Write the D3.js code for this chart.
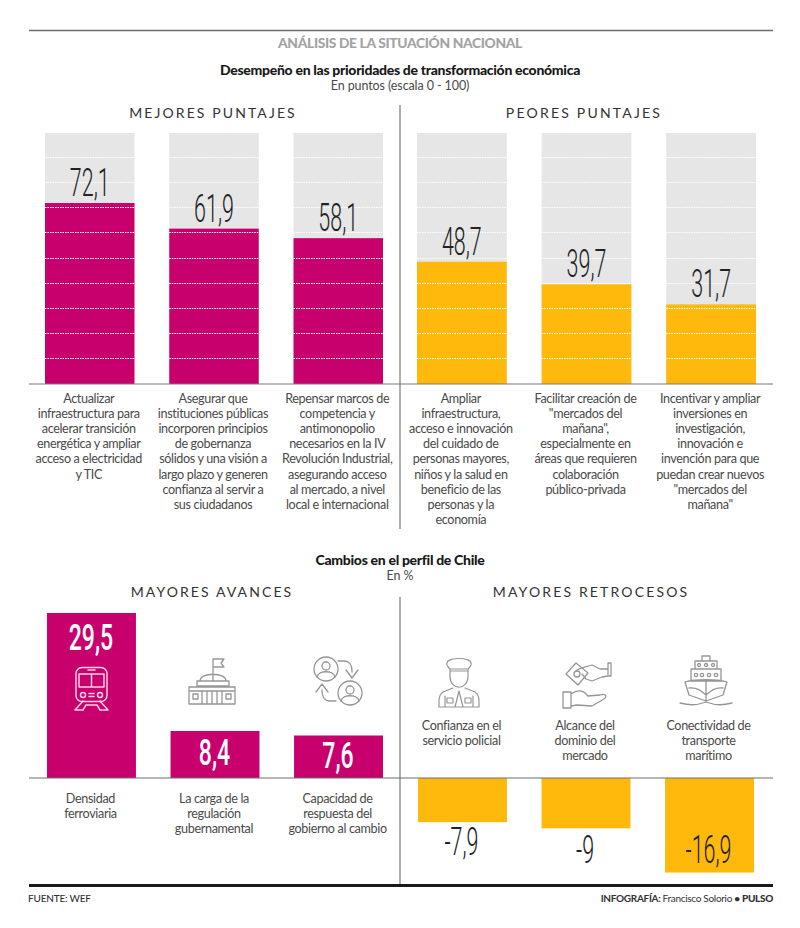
<!DOCTYPE html>
<html><head><meta charset="utf-8">
<script src="https://cdn.jsdelivr.net/npm/d3@7"></script>
<style>
html,body{margin:0;padding:0;background:#fff}
svg{display:block}
text{font-family:Lato,"Open Sans",sans-serif}
</style></head><body>
<svg id="c" width="800" height="928"></svg>
<script>
const bestValues=[72.1,61.9,58.1];
const worstValues=[48.7,39.7,31.7];
const advanceValues=[29.5,8.4,7.6];
const declineValues=[-7.9,-9,-16.9];
const bestLabels=[
 ["Actualizar","infraestructura para","acelerar transición","energética y ampliar","acceso a electricidad","y TIC"],
 ["Asegurar que","instituciones públicas","incorporen principios","de gobernanza","sólidos y una visión a","largo plazo y generen","confianza al servir a","sus ciudadanos"],
 ["Repensar marcos de","competencia y","antimonopolio","necesarios en la IV","Revolución Industrial,","asegurando acceso","al mercado, a nivel","local e internacional"]];
const worstLabels=[
 ["Ampliar","infraestructura,","acceso e innovación","del cuidado de","personas mayores,","niños y la salud en","beneficio de las","personas y la","economía"],
 ["Facilitar creación de","\"mercados del","mañana\",","especialmente en","áreas que requieren","colaboración","público-privada"],
 ["Incentivar y ampliar","inversiones en","investigación,","innovación e","invención para que","puedan crear nuevos","\"mercados del","mañana\""]];
const advanceLabels=[["Densidad","ferroviaria"],["La carga de la","regulación","gubernamental"],["Capacidad de","respuesta del","gobierno al cambio"]];
const declineLabels=[["Confianza en el","servicio policial"],["Alcance del","dominio del","mercado"],["Conectividad de","transporte","marítimo"]];
const gridTicks=[10,20,30,40,50,60,70,80,90];
const MAGENTA="#c8006e",AMBER="#ffb80c",GREY="#e6e6e6",TXT="#4a4a4a",IC="#969696";
const fmt=v=>String(v).replace(".",",");
const svg=d3.select("#c");

function line(x1,y1,x2,y2,col,w){svg.append("line").attr("x1",x1).attr("y1",y1).attr("x2",x2).attr("y2",y2).attr("stroke",col).attr("stroke-width",w);}
function txt(s,x,y,size,col,weight,anchor,ls){
  return svg.append("text").attr("x",x).attr("y",y).attr("font-size",size).attr("fill",col)
   .attr("font-weight",weight||400).attr("text-anchor",anchor||"middle").attr("letter-spacing",ls||0).text(s);
}
function bigNum(s,cx,y,size,col,weight,sx){
  svg.append("text").attr("transform",`translate(${cx},${y}) scale(${sx},1)`).attr("text-anchor","middle")
   .style("font-family","Roboto").attr("font-size",size).attr("font-weight",weight).attr("fill",col).text(s);
}
function multi(lines,cx,y0,lh){lines.forEach((l,i)=>txt(l,cx,y0+i*lh,12.6,TXT,400,"middle",-0.35));}

// frame
line(29,30.5,773,30.5,"#6e6e6e",1.3);
txt("ANÁLISIS DE LA SITUACIÓN NACIONAL",400,48,13.8,"#a3a3a3",900,"middle",-0.35);
txt("Desempeño en las prioridades de transformación económica",400,75,14,"#1a1a1a",900,"middle",-0.3);
txt("En puntos (escala 0 - 100)",400,90,12.5,TXT,400,"middle",-0.1);
txt("MEJORES PUNTAJES",213,118,14,"#333",400,"middle",2.1);
txt("PEORES PUNTAJES",584,118,14,"#333",400,"middle",2.2);
txt("Cambios en el perfil de Chile",400,565,14,"#1a1a1a",900,"middle",-0.3);
txt("En %",400,580,12.5,TXT,400,"middle",0);
txt("MAYORES AVANCES",212,597,14,"#333",400,"middle",2.1);
txt("MAYORES RETROCESOS",591,597,14,"#333",400,"middle",2.15);

// upper panels
const yTop=d3.scaleLinear().domain([0,100]).range([384,133]);
function upper(values,labels,range,color,numOff){
  const x=d3.scaleBand().domain(d3.range(values.length)).range(range).paddingInner(0.28);
  values.forEach((v,i)=>{
    const bx=x(i),bw=x.bandwidth();
    svg.append("rect").attr("x",bx).attr("y",yTop(100)).attr("width",bw).attr("height",yTop(0)-yTop(100)).attr("fill",GREY);
    svg.append("rect").attr("x",bx).attr("y",yTop(v)).attr("width",bw).attr("height",yTop(0)-yTop(v)).attr("fill",color);
    gridTicks.forEach(t=>{
      const gy=Math.round(yTop(t))-0.5;
      svg.append("line").attr("x1",bx).attr("x2",bx+bw).attr("y1",gy).attr("y2",gy)
       .attr("stroke","#fff").attr("stroke-width",1.1).attr("stroke-dasharray","1.5 1");
    });
    bigNum(fmt(v),bx+bw/2,yTop(v)-numOff,39,"#222",300,0.55);
    multi(labels[i],bx+bw/2-1,402.5,15.2);
  });
}
upper(bestValues,bestLabels,[45,383],MAGENTA,7);
upper(worstValues,worstLabels,[417,756],AMBER,7);
line(29,384,773,384,"#7a7a7a",1.2);
line(400,105,400,529,"#7a7a7a",1.2);
line(400,597,400,885,"#7a7a7a",1.2);

// lower panels
const yLow=d3.scaleLinear().domain([0,29.5]).range([778,613]);
const xA=d3.scaleBand().domain(d3.range(3)).range([47,383]).paddingInner(0.28);
const xD=d3.scaleBand().domain(d3.range(3)).range([418,754]).paddingInner(0.28);
const advBase=[650,765,768];
advanceValues.forEach((v,i)=>{
  const bx=xA(i),bw=xA.bandwidth();
  svg.append("rect").attr("x",bx).attr("y",yLow(v)).attr("width",bw).attr("height",yLow(0)-yLow(v)).attr("fill",MAGENTA);
  bigNum(fmt(v),bx+bw/2-0.5,advBase[i],36,"#fff",500,0.64);
  multi(advanceLabels[i],bx+bw/2-1,803,15.2);
});
const decBase=[855,863,863];
declineValues.forEach((v,i)=>{
  const bx=xD(i),bw=xD.bandwidth();
  svg.append("rect").attr("x",bx).attr("y",yLow(0)).attr("width",bw).attr("height",yLow(v)-yLow(0)).attr("fill",AMBER);
  bigNum(fmt(v),bx+bw/2-1,decBase[i],39,"#222",300,0.55);
  multi(declineLabels[i],bx+bw/2-1,730,15.2);
});
line(29,778,773,778,"#6e6e6e",1.2);
line(29,885.5,773,885.5,"#1a1a1a",3);
txt("FUENTE: WEF",28,902,10,"#333",500,"start",-0.2);
const cr=svg.append("text").attr("x",773).attr("y",902).attr("text-anchor","end").attr("font-size",10).attr("fill","#333").attr("letter-spacing",-0.3);
cr.append("tspan").attr("font-weight",700).text("INFOGRAFÍA: ");
cr.append("tspan").text("Francisco Solorio ");
cr.append("tspan").attr("font-weight",900).text("• PULSO");

// icons
function icon(tx,ty,col,sw,d,circles,rects){
  const g=svg.append("g").attr("transform",`translate(${tx},${ty})`).attr("fill","none").attr("stroke",col).attr("stroke-width",sw).attr("stroke-linejoin","round").attr("stroke-linecap","round");
  g.append("path").attr("d",d);
  (circles||[]).forEach(c=>g.append("circle").attr("cx",c[0]).attr("cy",c[1]).attr("r",c[2]));
  (rects||[]).forEach(r=>g.append("rect").attr("x",r[0]).attr("y",r[1]).attr("width",r[2]).attr("height",r[3]).attr("rx",r[4]||0));
}
// train
icon(74,667,"#f9d0e8",1.5,"M5 7H30V20H5ZM17.5 7V20M14 3H21M15 26.5H20M15 29.5H20M9 34L1 43H9L12 38M26 34L34 43H26L23 38M12 38H23",
 [[9,28,2.5],[26,28,2.5]],[[2,0.5,31,34,6]]);
// capitol
icon(188,657,IC,1.3,"M25 24V2M25 2H36L33 6L36 10H25M12 24C12 15 38 15 38 24M9 24H41V29H9ZM1 30H47V47H1ZM1 34H47M5 37H10V42H5ZM38 37H43V42H38ZM14 34V47M19 34V47M24 34V47M29 34V47M34 34V47");
// people
icon(313,657,IC,1.3,"M4 20C5 13 21 13 22 20M28 44C29 37 45 37 46 44M25 4H31C36 4 39 8 39 14V15M33 13L39 21L45 13M23 44H17C12 44 9 40 9 34V33M3 35L9 27L15 35",
 [[13,12,12],[13,9,4],[37,36,12],[37,33,4]]);
// officer
icon(438,655,IC,1.2,"M9 8C9 2 33 2 33 8C34 10 31 13 30 14H12C11 13 8 10 9 8ZM12 14V21C12 36 30 36 30 21V14M12 16H30M15 33L5 37C2 39 1 42 1 46V52H41V46C41 42 40 39 37 37L27 33M21 36L17 52M21 36L25 52M7 41V52M35 41V52M9 43H15V48H9ZM27 43H33V48H27Z");
// hands
icon(562,660,IC,1.3,"M14 3L26 13L16 25L4 14ZM14 11C18 7 25 7 30 5L38 9H46M46 3H49V16H46ZM46 16L40 17L30 21L24 19L20 14M1 32H9V48H1ZM9 34C16 29 22 31 26 36L38 35C43 33 46 36 42 39L30 46L15 45L9 46",[[15,14,3]]);
// ship
icon(680,655,IC,1.3,"M22 1H30V6H22ZM15 6H37V14H15ZM11 14H41V26H11ZM5 27C15 24 37 24 47 27L43 40L26 46L9 40ZM26 25V46M9 33C15 32 20 34 26 40C32 34 37 32 43 33M0 48C8 50 15 51 26 47C37 51 44 50 52 48",
 [[19,10,1.5],[26,10,1.5],[33,10,1.5],[16,20,1.7],[22,20,1.7],[29,20,1.7],[36,20,1.7]]);
</script>
</body></html>
